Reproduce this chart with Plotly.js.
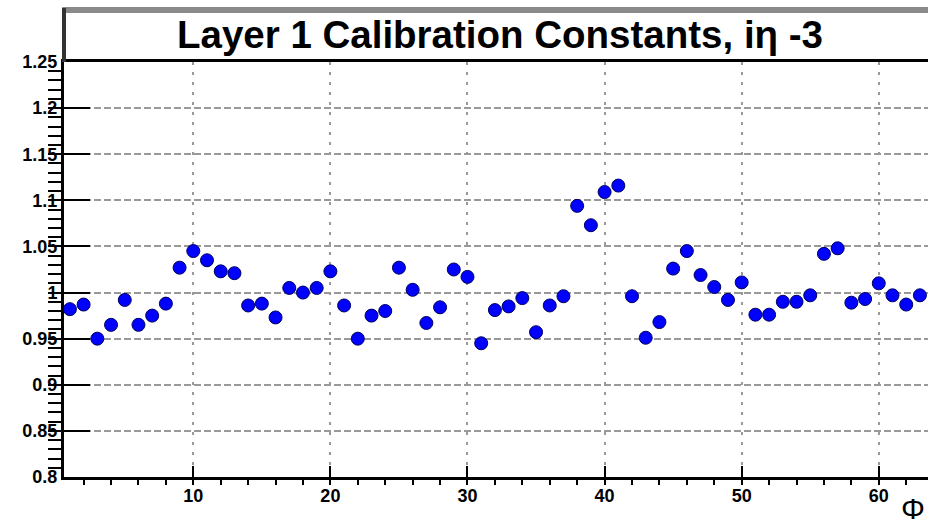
<!DOCTYPE html>
<html>
<head>
<meta charset="utf-8">
<script src="https://cdn.plot.ly/plotly-3.0.1.min.js"></script>
<style>html,body{margin:0;padding:0;background:#fff;}#chart{width:928px;height:526px;}</style>
</head>
<body>
<div id="chart"></div>
<script>
const phi = [1,2,3,4,5,6,7,8,9,10,11,12,13,14,15,16,17,18,19,20,21,22,23,24,25,26,27,28,29,30,31,32,33,34,35,36,37,38,39,40,41,42,43,44,45,46,47,48,49,50,51,52,53,54,55,56,57,58,59,60,61,62,63];
const calib = [0.982,0.987,0.950,0.965,0.992,0.965,0.975,0.988,1.027,1.045,
               1.035,1.023,1.021,0.986,0.988,0.973,1.005,1.000,1.005,1.023,
               0.986,0.950,0.975,0.980,1.027,1.003,0.967,0.984,1.025,1.017,
               0.945,0.981,0.985,0.994,0.957,0.986,0.996,1.094,1.073,1.109,
               1.116,0.996,0.951,0.968,1.026,1.045,1.019,1.006,0.992,1.011,
               0.976,0.976,0.990,0.990,0.997,1.042,1.048,0.989,0.993,1.010,
               0.997,0.987,0.997];
const xTickVals = [10,20,30,40,50,60];
const xTickText = ["10","20","30","40","50","60"];
const yTickVals = [0.8,0.85,0.9,0.95,1,1.05,1.1,1.15,1.2,1.25];
const yTickText = ["0.8","0.85","0.9","0.95","1","1.05","1.1","1.15","1.2","1.25"];
const titleText = "Layer 1 Calibration Constants, iη -3";
const xTitle = "Φ";

const tickFont = {family: "Liberation Sans, Arial, sans-serif", size: 18, color: "#000", weight: "bold"};

const trace = {
  x: phi, y: calib, type: "scatter", mode: "markers",
  marker: {color: "#0000ff", size: 13, line: {color: "#000060", width: 1}},
  hoverinfo: "x+y"
};

const layout = {
  width: 928, height: 526,
  margin: {l: 64, r: 0, t: 62, b: 49, pad: 0},
  paper_bgcolor: "#fff", plot_bgcolor: "#fff",
  showlegend: false,
  title: {
    text: titleText,
    font: {family: "Liberation Sans, Arial, sans-serif", size: 38.5, color: "#000", weight: "bold"},
    xref: "container", x: 500/928, xanchor: "center",
    yref: "container", y: 1 - 35/526, yanchor: "middle"
  },
  xaxis: {
    range: [0.569, 63.59], showline: true, linewidth: 3, linecolor: "#000", mirror: true,
    ticks: "inside", ticklen: 11, tickwidth: 2, tickcolor: "#000",
    tickvals: xTickVals, ticktext: xTickText, tickfont: tickFont,
    showgrid: true, gridcolor: "#999", gridwidth: 2, griddash: "3px,7px",
    minor: {dtick: 2, ticklen: 5, tickwidth: 2, tickcolor: "#000", showgrid: false},
    zeroline: false
  },
  yaxis: {
    range: [0.8, 1.25], showline: true, linewidth: 3, linecolor: "#000", mirror: true,
    ticks: "inside", ticklen: 26, tickwidth: 2, tickcolor: "#000",
    tickvals: yTickVals, ticktext: yTickText, tickfont: tickFont,
    showgrid: true, gridcolor: "#999", gridwidth: 2, griddash: "7px,3px",
    minor: {dtick: 0.01, ticklen: 13, tickwidth: 2, tickcolor: "#000", showgrid: false},
    zeroline: false
  },
  shapes: [
    {type: "line", xref: "paper", yref: "paper", x0: -0.002, x1: 1.2, y0: (477-10)/415, y1: (477-10)/415,
     line: {color: "#8a8a8a", width: 6}},
    {type: "line", xref: "paper", yref: "paper", x0: 0, x1: 0, y0: 1, y1: (477-8)/415,
     line: {color: "#333", width: 4}}
  ],
  annotations: [
    {text: xTitle, xref: "paper", yref: "paper", x: (927-64)/864, y: (477-490)/415,
     xanchor: "right", yanchor: "top", showarrow: false,
     font: {family: "Liberation Sans, Arial, sans-serif", size: 30, color: "#000"}}
  ]
};

Plotly.newPlot("chart", [trace], layout, {displayModeBar: false, staticPlot: true});
</script>
</body>
</html>
